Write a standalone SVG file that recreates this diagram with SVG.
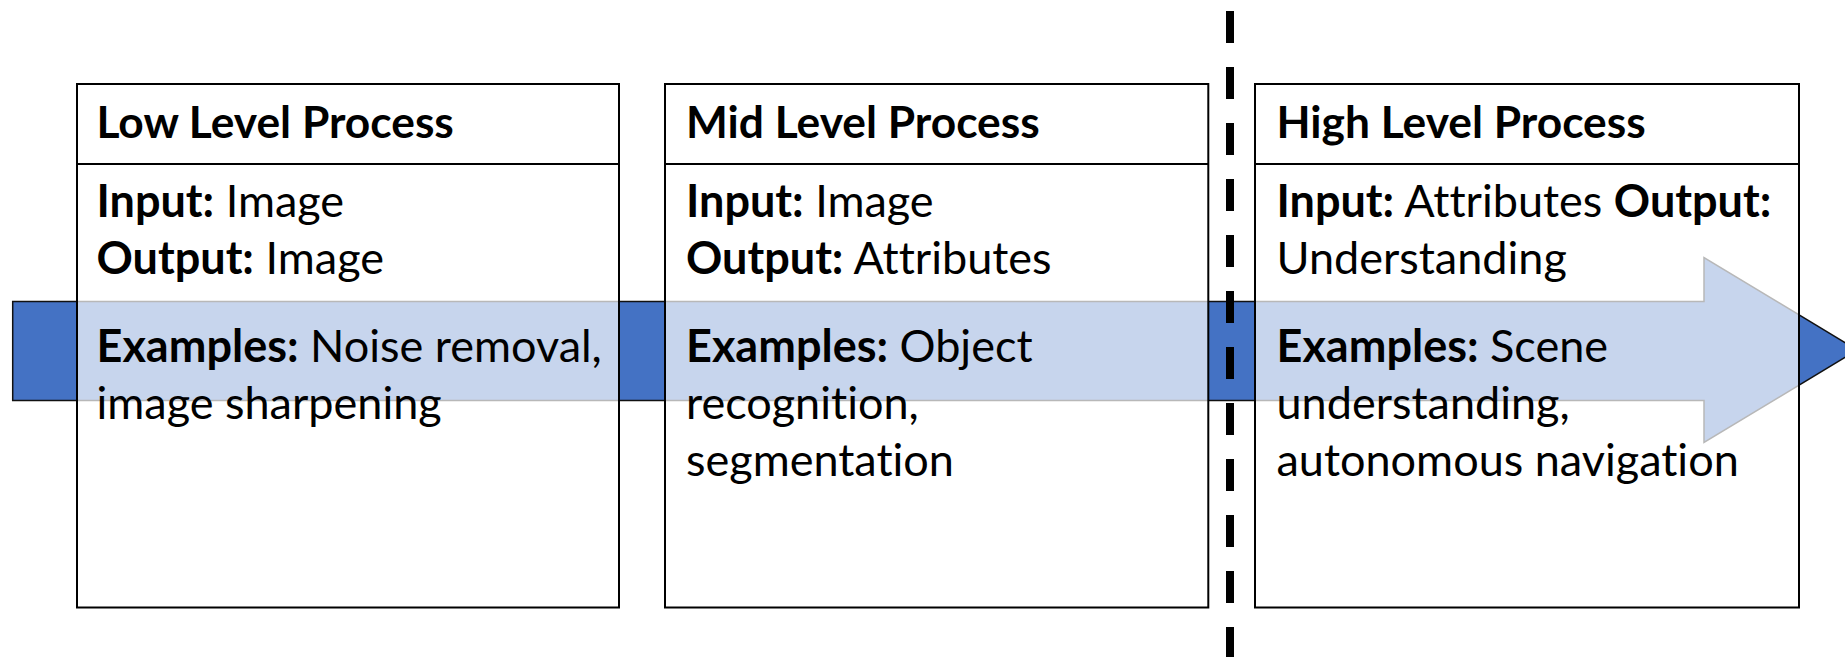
<svg xmlns="http://www.w3.org/2000/svg" width="1845" height="657" viewBox="0 0 1845 657">
<style>
.box{fill:#ffffff;fill-opacity:0.7;stroke:#000;stroke-width:2}
.div{stroke:#000;stroke-width:2}
text{font-family:Lato,"Open Sans","Liberation Sans",sans-serif;font-size:45px;fill:#000;font-variant-ligatures:none}
.b{font-weight:bold}
.h{font-size:44.3px}
</style>
<rect width="1845" height="657" fill="#fff"/>
<g id="connectors">
<polygon id="arrow" points="12.7,301.5 1704,301.5 1704,257.5 1857,350 1704,442.5 1704,400.5 12.7,400.5" fill="#4472C4" stroke="#111" stroke-width="1.5"/>
</g>
<g id="low">
<rect class="box" x="77" y="84" width="542" height="523.5"/>
<line class="div" x1="77" y1="164" x2="619" y2="164"/>
<text class="b h" x="96.5" y="138">Low Level Process</text>
<text x="96.5" y="216.7"><tspan class="b">Input:</tspan> Image</text>
<text x="96.5" y="273.7"><tspan class="b">Output:</tspan> Image</text>
<text x="96.5" y="361.5"><tspan class="b">Examples:</tspan> Noise removal,</text>
<text x="96.5" y="418.5">image sharpening</text>
</g>
<g id="mid">
<rect class="box" x="665" y="84" width="543.3" height="523.5"/>
<line class="div" x1="665" y1="164" x2="1208.3" y2="164"/>
<text class="b h" x="686" y="138">Mid Level Process</text>
<text x="686" y="216.7"><tspan class="b">Input:</tspan> Image</text>
<text x="686" y="273.7"><tspan class="b">Output:</tspan> Attributes</text>
<text x="686" y="361.5"><tspan class="b">Examples:</tspan> Object</text>
<text x="686" y="418.5">recognition,</text>
<text x="686" y="475.5">segmentation</text>
</g>
<g id="high">
<rect class="box" x="1255" y="84" width="544" height="523.5"/>
<line class="div" x1="1255" y1="164" x2="1799" y2="164"/>
<text class="b h" x="1276.5" y="138">High Level Process</text>
<text x="1276.5" y="216.7"><tspan class="b">Input:</tspan> Attributes <tspan class="b">Output:</tspan></text>
<text x="1276.5" y="273.7">Understanding</text>
<text x="1276.5" y="361.5"><tspan class="b">Examples:</tspan> Scene</text>
<text x="1276.5" y="418.5">understanding,</text>
<text x="1276.5" y="475.5">autonomous navigation</text>
</g>
<g id="separator">
<line x1="1230" y1="11" x2="1230" y2="657" stroke="#000" stroke-width="8" stroke-dasharray="32 24"/>
</g>
</svg>
